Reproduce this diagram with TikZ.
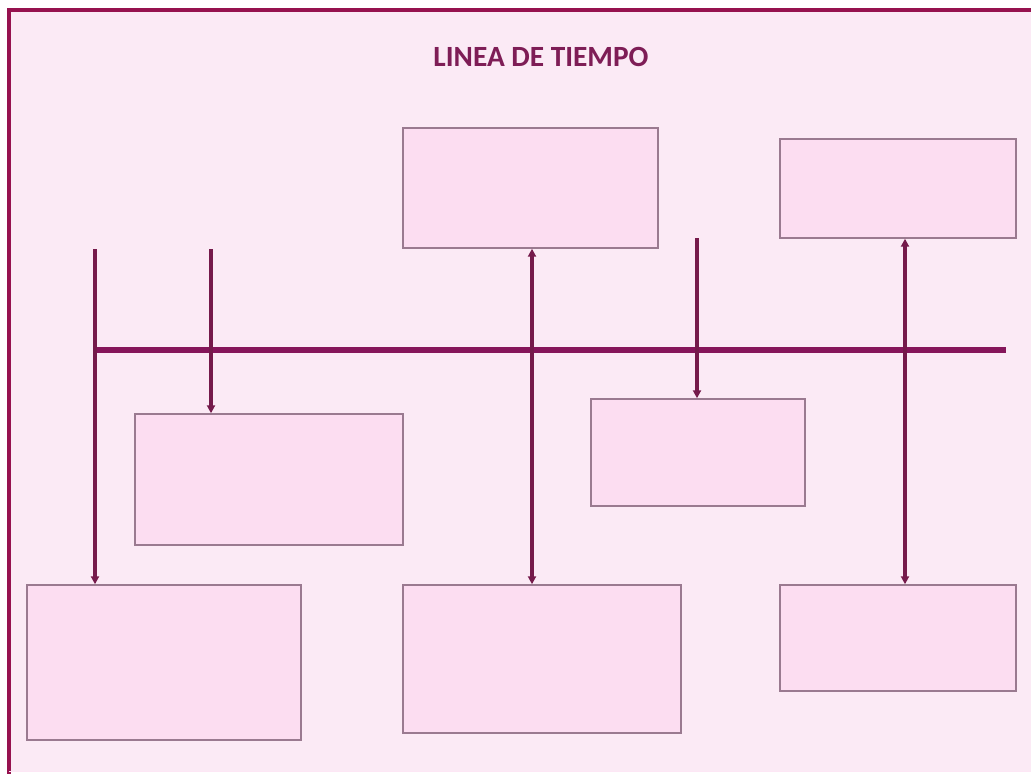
\documentclass[tikz,border=0pt]{standalone}
\usepackage{fontspec}
\setsansfont{Carlito}
\usetikzlibrary{arrows.meta}
\definecolor{bgpink}{HTML}{FBEAF5}
\definecolor{boxpink}{HTML}{FCDDF1}
\definecolor{boxedge}{HTML}{9A7A90}
\definecolor{frame}{HTML}{96124F}
\definecolor{tline}{HTML}{85155A}
\definecolor{conn}{HTML}{751A4B}
\definecolor{titlec}{HTML}{7E1D56}
\tikzset{
  evbox/.style={draw=boxedge, line width=1.1pt, fill=boxpink, inner sep=0pt},
  link/.style={draw=conn, line width=2.6pt, -{Triangle[length=6pt,width=6pt]}},
  biglink/.style={draw=conn, line width=2.6pt, {Triangle[length=6pt,width=6pt]}-{Triangle[length=6pt,width=6pt]}},
}
\begin{document}
\begin{tikzpicture}[x=0.75pt,y=-0.75pt]
\useasboundingbox (0,0) rectangle (1031,774);
\fill[white] (0,0) rectangle (1031,774);
\fill[bgpink] (9,10) rectangle (1031,772);
\draw[frame, line width=3pt] (9,774) -- (9,10) -- (1031,10);
\draw[boxpink!70!white, line width=1pt] (9,771.5) -- (1031,771.5);
\node[font=\sffamily\bfseries\fontsize{22}{26}\selectfont, text=titlec] (title) at (541,57) {LINEA DE TIEMPO};
% boxes
\node[evbox, minimum width=191.25pt, minimum height=90pt] (b1) at (530.5,188) {};
\node[evbox, minimum width=177pt, minimum height=74.25pt] (b2) at (898,188.5) {};
\node[evbox, minimum width=201pt, minimum height=98.25pt] (b3) at (269,479.5) {};
\node[evbox, minimum width=160.5pt, minimum height=80.25pt] (b4) at (698,452.5) {};
\node[evbox, minimum width=205.5pt, minimum height=116.25pt] (b5) at (164,662.5) {};
\node[evbox, minimum width=208.5pt, minimum height=111pt] (b6) at (542,659) {};
\node[evbox, minimum width=177pt, minimum height=79.5pt] (b7) at (898,638) {};
% timeline
\coordinate (ts) at (93,350);
\coordinate (te) at (1006,350);
\draw[tline, line width=4.6pt] (ts) -- (te);
% connectors
\coordinate (s1) at (95,249);
\coordinate (s2) at (211,249);
\coordinate (s4) at (697,238);
\coordinate (c1) at (532,0);
\coordinate (c2) at (905,0);
\draw[link] (s1) -- (s1 |- b5.north);
\draw[link] (s2) -- (s2 |- b3.north);
\draw[link] (s4) -- (s4 |- b4.north);
\draw[biglink] (c1 |- b1.south) -- (c1 |- b6.north);
\draw[biglink] (c2 |- b2.south) -- (c2 |- b7.north);
\end{tikzpicture}
\end{document}
